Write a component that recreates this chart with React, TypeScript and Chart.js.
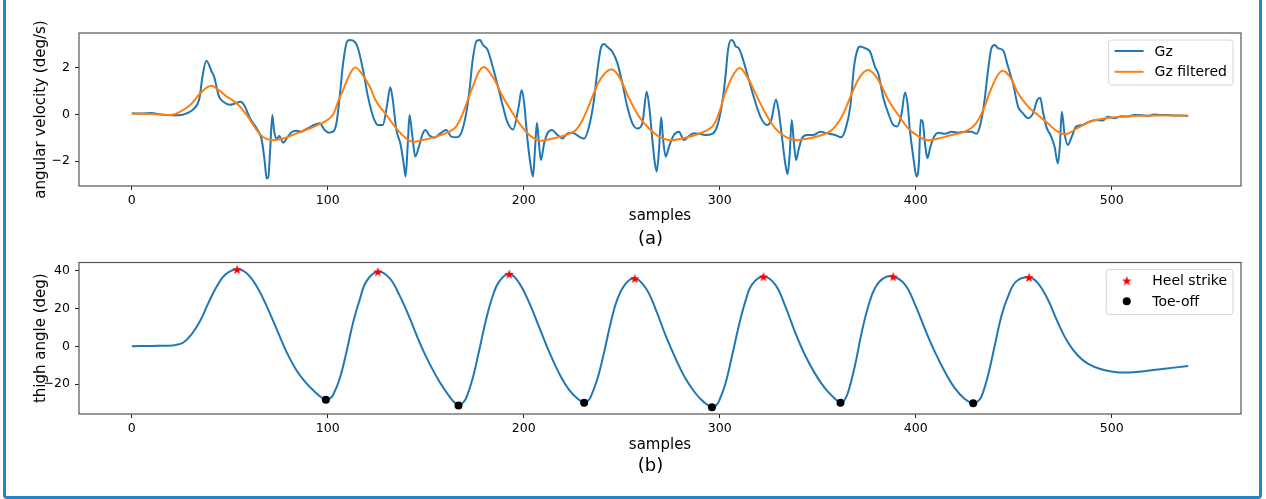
import React, { useEffect, useRef } from "react";
import { Chart, registerables } from "chart.js";

Chart.register(...registerables);

const FONT = '"DejaVu Sans", "Liberation Sans", sans-serif';

// ---------- data: panel (a) ----------
const X_TICKS = [0, 100, 200, 300, 400, 500];
const GZ_Y_TICKS = [-2, 0, 2];
const THIGH_Y_TICKS = [-20, 0, 20, 40];

const GZ_X = [
  0, 5, 10, 15, 20, 24, 28, 32, 34.5, 36, 38, 40.8, 42, 43.2, 44.5, 46.7, 50, 52.6, 55.5, 57.3,
  60.3, 63.7, 66.3, 67.9, 68.8, 69.6, 70.6, 71.7, 72.6, 73.9, 75.2, 77.3, 79, 81.5, 84, 86.6, 88.3, 90.8, 93, 95.9,
  98.4, 100.5, 102.7, 104.4, 106.1, 107.8, 109.8, 111.2, 113.7, 115.4, 118, 120.5, 123.1, 125.6, 128.1, 130.1, 131.9, 133.2, 135, 137,
  138.7, 139.7, 140.9, 141.7, 143.1, 144.6, 146.5, 148.5, 149.8, 151.9, 154.4, 157.4, 160.4, 163, 165.5, 168, 170.6, 172.3, 173.9, 176,
  177.7, 179.1, 181.6, 184.1, 186.7, 189.2, 191.5, 194.5, 197.4, 198.9, 200.2, 201.9, 203.6, 204.7, 205.8, 206.7, 207.6, 208.7, 210.4, 212.1,
  214.3, 217.2, 219.7, 222.3, 224.8, 228.2, 230.8, 233.3, 235.8, 237.6, 239.3, 241, 242.7, 245.2, 247.8, 250.3, 252.8, 255.4, 258, 260.5,
  262.7, 264.2, 265.6, 266.9, 267.8, 269, 270.1, 271.1, 272.4, 274.1, 276.6, 279.2, 281.7, 284.2, 286.8, 289.3, 292.7, 296.1, 298.6, 301.2,
  302.9, 304.2, 305.8, 307.1, 307.9, 309.7, 311.4, 313.9, 317.3, 320.7, 324.1, 326.3, 328.7, 330, 331.7, 333.4, 334.6, 335.6, 336.7, 337.7,
  338.9, 340.2, 341.9, 344.4, 347.8, 351.3, 354.7, 358.9, 362, 364, 366.6, 368.5, 370.2, 371.6, 374.1, 376.7, 379.2, 380.9, 383.5, 386,
  388.5, 390.5, 392.8, 394.5, 395.8, 397, 398.7, 400.4, 401.6, 402.5, 403.5, 404.7, 405.9, 407.3, 408.9, 411.5, 414.9, 418.3, 421.6, 425,
  428.4, 431, 432.7, 434.9, 436.9, 438.6, 440.3, 442, 444.5, 447.1, 449.6, 452.2, 454.7, 457.3, 459.8, 462, 463.5, 464.9, 466.6, 469.1,
  470.8, 472.5, 473.5, 474.5, 475.9, 477.6, 479.6, 481.8, 485.2, 488.6, 492, 495.4, 498, 501.4, 504.8, 508.2, 511.6, 514.9, 518.3, 521.7,
  525.1, 528.5, 531.9, 535, 539,
];
const GZ_Y = [
  0.05, 0.04, 0.06, 0.0, -0.03, -0.03, 0.05, 0.27, 0.7, 1.6, 2.31, 1.84, 1.63, 1.2, 0.77, 0.55, 0.42, 0.47, 0.55, 0.41,
  -0.16, -0.6, -1.1, -2.1, -2.75, -2.72, -1.5, -0.02, -0.7, -1.05, -0.93, -1.21, -1.03, -0.76, -0.7, -0.74, -0.66, -0.55, -0.45, -0.38,
  -0.67, -0.78, -0.74, -0.38, 0.8, 2.2, 3.13, 3.2, 3.13, 2.85, 1.91, 0.77, -0.09, -0.45, -0.45, 0.34, 1.17, 0.6, -0.67, -1.24,
  -2.1, -2.67, -1.1, -0.02, -0.9, -1.81, -1.38, -0.81, -0.67, -0.9, -1.0, -0.81, -0.67, -0.95, -0.98, -0.81, 0.05, 1.05, 2.34, 3.17,
  3.2, 3.0, 2.77, 2.06, 1.25, 0.4, -0.3, -0.65, 0.34, 1.05, 0.48, -1.1, -2.24, -2.67, -1.38, -0.35, -1.1, -1.96, -1.24, -0.81,
  -0.67, -0.88, -1.03, -0.81, -0.78, -0.95, -1.03, -0.52, 0.62, 1.91, 2.85, 3.03, 2.9, 2.7, 2.2, 1.34, 0.34, -0.38, -0.6, -0.38,
  0.98, 0.19, -1.1, -2.1, -2.46, -1.52, -0.12, -1.1, -1.81, -1.38, -0.88, -0.74, -1.1, -0.93, -0.81, -0.83, -0.88, -0.83, -0.52, 0.48,
  1.63, 2.77, 3.2, 3.13, 2.95, 2.85, 2.49, 1.77, 0.77, -0.09, -0.45, -0.23, 0.65, 0.19, -0.95, -2.1, -2.56, -1.81, -0.24, -1.1,
  -1.96, -1.52, -1.03, -0.88, -0.88, -0.74, -0.81, -0.88, -0.98, -0.67, 0.34, 2.05, 2.77, 2.92, 2.85, 2.7, 2.05, 1.75, 0.7, 0.05,
  -0.45, -0.52, 0.05, 0.95, 0.48, -0.67, -1.81, -2.67, -2.1, -0.24, -0.31, -1.24, -1.88, -1.45, -1.03, -0.78, -0.83, -0.74, -0.78, -0.74,
  -0.74, -0.83, -0.52, 0.48, 1.91, 2.85, 2.99, 2.85, 2.77, 2.05, 1.34, 0.34, 0.05, -0.16, 0.05, 0.62, 0.72, 0.12, -0.52, -0.95,
  -1.38, -2.1, -1.38, 0.12, -0.81, -1.31, -0.95, -0.52, -0.45, -0.31, -0.24, -0.26, -0.1, -0.16, -0.08, -0.09, -0.02, -0.02, -0.06, 0.0,
  -0.02, -0.02, -0.04, -0.04, -0.06,
];

const GZF_X = [
  0, 10, 20, 24.7, 29.8, 34.9, 40, 43.2, 48.4, 53.5, 58.6, 63.7, 67.1, 71.3, 77.3, 84, 90.8, 95.9, 99, 102.7,
  105, 107.8, 110.5, 113.7, 116.5, 121.4, 124.8, 129.9, 135, 140, 143.4, 148.5, 155.3, 162, 165.5, 168.9, 174, 179, 184.1, 189.2,
  192.6, 197.7, 202.8, 207.9, 214.7, 221.5, 226.6, 230.8, 235, 239.3, 244.4, 248.6, 253.7, 258.8, 263.9, 269, 274, 280.8, 289.3, 296.1,
  299.5, 303.7, 309.7, 313.9, 318.2, 323.3, 328.3, 333.4, 338.5, 345.3, 352.1, 357.2, 362.3, 367.4, 371.6, 375.8, 380.9, 386, 391.1, 396.2,
  401.3, 405.6, 411.5, 418.3, 425, 430.1, 434.4, 438.6, 443.7, 448, 452.2, 457.3, 462.3, 467.4, 472.5, 476.8, 482.7, 488.6, 497, 506.5,
  515, 523.4, 539,
];
const GZF_Y = [
  0.03, 0.02, -0.02, 0.12, 0.41, 0.91, 1.23, 1.13, 0.77, 0.48, -0.02, -0.67, -0.98, -1.1, -1.03, -0.81, -0.6, -0.41, -0.28, 0.0,
  0.5, 1.05, 1.6, 2.02, 1.85, 1.2, 0.55, -0.02, -0.6, -1.03, -1.17, -1.1, -0.95, -0.74, -0.52, 0.05, 1.2, 2.03, 1.63, 0.77,
  0.3, -0.38, -0.88, -1.12, -1.03, -0.88, -0.67, -0.09, 0.77, 1.55, 1.94, 1.63, 0.7, -0.09, -0.6, -0.95, -1.1, -1.03, -0.83, -0.52,
  0.05, 1.13, 1.99, 1.63, 0.91, 0.05, -0.6, -0.95, -1.1, -1.03, -0.88, -0.67, -0.09, 0.91, 1.63, 1.91, 1.48, 0.62, -0.02, -0.6,
  -0.93, -1.1, -1.03, -0.88, -0.74, -0.45, 0.19, 1.13, 1.87, 1.63, 0.91, 0.34, -0.02, -0.38, -0.74, -0.84, -0.58, -0.31, -0.16, -0.09,
  -0.05, -0.04, -0.05,
];

// ---------- data: panel (b) ----------
const THIGH_X = [
  0, 10, 18, 22, 26.3, 30.6, 34.9, 39.1, 43.4, 47.6, 53.7, 58.6, 63.7, 68.8, 73.9, 79, 84, 89.1, 94.2, 96.6, 99, 100.9, 102.7,
  106.1, 109.5, 112.9, 116.3, 119.7, 125.5, 131.5, 136.6, 141.7, 146.8, 151.9, 157, 162.1, 164.6, 166.7, 168.6, 170.6, 173.9, 177.4, 180.8, 184.1, 187.5,
  192.6, 197.7, 202.8, 207.9, 213, 218.1, 223.2, 228.2, 230.8, 232.5, 234.2, 237.6, 241, 244.4, 247.7, 252, 256.6, 262.2, 267.3, 272.4, 277.5,
  282.5, 287.6, 291.9, 296, 297.8, 299.5, 302.9, 306.3, 309.7, 313.1, 316.4, 322.3, 328.3, 333.4, 338.5, 343.6, 348.6, 353.7, 358.9, 361.6, 363.6, 365.6,
  369, 372.4, 375.8, 379.2, 383.5, 388.5, 394.5, 399.6, 404.7, 409.8, 414.9, 420, 425, 429.3, 431.4, 433.5, 436.9, 440.3, 443.7, 447.1, 451.3,
  457.8, 462.3, 467.4, 472.5, 477.6, 482.7, 487.8, 494.6, 501.4, 508.2, 516.6, 526.8, 539,
];
const THIGH_Y = [
  0, 0.2, 0.3, 0.6, 2, 6.5, 13.5, 23, 31.8, 37.9, 40.8, 38.7, 31.8, 21.3, 9.1, -3.1, -12.7, -19.7, -24.9, -27, -28.3, -27.8, -25.8,
  -17.1, -3.1, 12.6, 24.8, 34.4, 39.6, 36.1, 27, 15.2, 2.1, -9.2, -18.8, -26.7, -29.8, -31.4, -30.4, -27.5, -17.1, -1.4, 14.3, 26.5, 34.4,
  38.4, 33.5, 23, 10, -3.1, -14.5, -23.2, -28.4, -30, -29.2, -26.7, -17.1, -3.1, 12.6, 24.8, 33.2, 36, 30.9, 19.6, 5.6, -6.6,
  -17.1, -24.9, -29.6, -32.3, -31.6, -29.3, -19.7, -4.9, 10.8, 23.9, 32.7, 37, 32.7, 21.3, 7.3, -4.9, -14.5, -22.3, -27.9, -30, -28.6, -24,
  -10.1, 7.3, 21.3, 30.9, 36, 37, 32.7, 22.2, 9.1, -3.1, -13.6, -22.3, -27.9, -30.2, -29.4, -26.7, -15.3, 0.4, 16.1, 26.5, 34.4,
  36.6, 33.5, 24.8, 12.6, 2.1, -4.9, -9.2, -12.2, -13.6, -13.9, -13.2, -11.9, -10.5,
];

const HEEL_X = [53.7, 125.5, 192.6, 256.6, 322.3, 388.5, 457.8];
const HEEL_Y = [40.8, 39.6, 38.4, 36, 37, 37, 36.6];
const TOE_X = [99, 166.7, 230.8, 296, 361.6, 429.3];
const TOE_Y = [-28.3, -31.4, -30, -32.3, -30, -30.2];

const BLUE = "#1f77b4";
const ORANGE = "#ff7f0e";

function pts(xs: number[], ys: number[]) {
  return xs.map((x, i) => ({ x, y: ys[i] }));
}

function fmt(v: number) {
  return v < 0 ? "\u2212" + Math.abs(v) : String(v);
}

function makeStar(color: string, size: number) {
  const c = document.createElement("canvas");
  c.width = size;
  c.height = size;
  const ctx = c.getContext("2d")!;
  ctx.fillStyle = color;
  ctx.beginPath();
  for (let i = 0; i < 10; i++) {
    const r = i % 2 === 0 ? size / 2 : (size / 2) * 0.42;
    const a = -Math.PI / 2 + (i * Math.PI) / 5;
    const px = size / 2 + r * Math.cos(a);
    const py = size / 2 + r * Math.sin(a) + size * 0.06;
    if (i === 0) ctx.moveTo(px, py);
    else ctx.lineTo(px, py);
  }
  ctx.closePath();
  ctx.fill();
  return c;
}

type LegendItem = { label: string; kind: "line" | "star" | "circle"; color: string };

function makePlugins(items: LegendItem[], caption: string, capX: number, capY: number, star: HTMLCanvasElement) {
  return [
    {
      id: "frame",
      afterDraw(chart: any) {
        const { ctx, chartArea: a } = chart;
        ctx.save();
        ctx.strokeStyle = "#555";
        ctx.lineWidth = 1.2;
        ctx.strokeRect(a.left, a.top, a.right - a.left, a.bottom - a.top);
        ctx.restore();
      },
    },
    {
      id: "mplLegend",
      afterDraw(chart: any) {
        const { ctx, chartArea: a } = chart;
        ctx.save();
        ctx.font = `14px ${FONT}`;
        const textW = Math.max(...items.map((it) => ctx.measureText(it.label).width));
        const w = 6 + 29 + 11 + textW + 6;
        const h = 45;
        const right = a.right - 8;
        const top = a.top + 7;
        const left = right - w;
        const r = 3;
        ctx.beginPath();
        ctx.moveTo(left + r, top);
        ctx.lineTo(right - r, top);
        ctx.quadraticCurveTo(right, top, right, top + r);
        ctx.lineTo(right, top + h - r);
        ctx.quadraticCurveTo(right, top + h, right - r, top + h);
        ctx.lineTo(left + r, top + h);
        ctx.quadraticCurveTo(left, top + h, left, top + h - r);
        ctx.lineTo(left, top + r);
        ctx.quadraticCurveTo(left, top, left + r, top);
        ctx.closePath();
        ctx.fillStyle = "rgba(255,255,255,0.85)";
        ctx.fill();
        ctx.strokeStyle = "#d6d6d6";
        ctx.lineWidth = 1;
        ctx.stroke();
        items.forEach((it, i) => {
          const cy = top + 11 + i * 20.8;
          const hx = left + 6;
          if (it.kind === "line") {
            ctx.strokeStyle = it.color;
            ctx.lineWidth = 2;
            ctx.beginPath();
            ctx.moveTo(hx, cy);
            ctx.lineTo(hx + 29, cy);
            ctx.stroke();
          } else if (it.kind === "star") {
            ctx.drawImage(star, hx + 14.5 - star.width / 2, cy - star.height / 2);
          } else {
            ctx.fillStyle = it.color;
            ctx.beginPath();
            ctx.arc(hx + 14.5, cy, 4, 0, Math.PI * 2);
            ctx.fill();
          }
          ctx.fillStyle = "#000";
          ctx.textBaseline = "middle";
          ctx.textAlign = "left";
          ctx.fillText(it.label, hx + 40, cy + 1);
        });
        ctx.restore();
      },
    },
    {
      id: "caption",
      afterDraw(chart: any) {
        const { ctx } = chart;
        ctx.save();
        ctx.font = `18px ${FONT}`;
        ctx.fillStyle = "#000";
        ctx.textAlign = "center";
        ctx.textBaseline = "middle";
        ctx.fillText(caption, capX, capY);
        ctx.restore();
      },
    },
  ];
}

function axisOptions(
  yTicks: number[],
  yMin: number,
  yMax: number,
  yTitle: string,
  xAxisH: number
) {
  const tickFont = { family: FONT, size: 12.5 };
  const titleFont = { family: FONT, size: 15 };
  return {
    x: {
      type: "linear",
      min: -26.95,
      max: 565.95,
      afterBuildTicks: (s: any) => {
        s.ticks = X_TICKS.map((v) => ({ value: v }));
      },
      afterFit: (s: any) => {
        s.height = xAxisH;
      },
      grid: { display: true, drawOnChartArea: false, drawTicks: true, tickLength: 4, color: "#222", lineWidth: 1 },
      border: { display: false },
      ticks: { font: tickFont, color: "#000", padding: 3, maxRotation: 0, autoSkip: false, callback: (v: number) => fmt(v) },
      title: { display: true, text: "samples", font: titleFont, color: "#000", padding: 0 },
    },
    y: {
      type: "linear",
      min: yMin,
      max: yMax,
      afterBuildTicks: (s: any) => {
        s.ticks = yTicks.map((v) => ({ value: v }));
      },
      afterFit: (s: any) => {
        s.width = 47;
      },
      grid: { display: true, drawOnChartArea: false, drawTicks: true, tickLength: 4, color: "#222", lineWidth: 1 },
      border: { display: false },
      ticks: { font: tickFont, color: "#000", padding: 5, autoSkip: false, callback: (v: number) => fmt(v) },
      title: { display: true, text: yTitle, font: titleFont, color: "#000", padding: 0 },
    },
  };
}

export default function App() {
  const c1 = useRef<HTMLCanvasElement>(null);
  const c2 = useRef<HTMLCanvasElement>(null);

  useEffect(() => {
    document.body.style.margin = "0";
    const star = makeStar("#ff0000", 10);

    const chart1 = new Chart(c1.current!, {
      type: "line",
      data: {
        datasets: [
          {
            label: "Gz",
            data: pts(GZ_X, GZ_Y),
            borderColor: BLUE,
            borderWidth: 2,
            pointRadius: 0,
            cubicInterpolationMode: "monotone",
            fill: false,
            order: 2,
          },
          {
            label: "Gz filtered",
            data: pts(GZF_X, GZF_Y),
            borderColor: ORANGE,
            borderWidth: 2,
            pointRadius: 0,
            tension: 0.4,
            fill: false,
            order: 1,
          },
        ],
      },
      options: {
        responsive: false,
        animation: false,
        devicePixelRatio: 1,
        layout: { padding: { left: 32, right: 25, top: 33, bottom: 24.5 } },
        scales: axisOptions(GZ_Y_TICKS, -3.075, 3.505, "angular velocity (deg/s)", 39.5) as any,
        plugins: { legend: { display: false }, tooltip: { enabled: false } },
      },
      plugins: makePlugins(
        [
          { label: "Gz", kind: "line", color: BLUE },
          { label: "Gz filtered", kind: "line", color: ORANGE },
        ],
        "(a)",
        650.5,
        239,
        star
      ) as any,
    } as any);

    const chart2 = new Chart(c2.current!, {
      type: "line",
      data: {
        datasets: [
          {
            label: "thigh angle",
            data: pts(THIGH_X, THIGH_Y),
            borderColor: BLUE,
            borderWidth: 2,
            pointRadius: 0,
            tension: 0.4,
            fill: false,
            order: 3,
          },
          {
            label: "Heel strike",
            data: pts(HEEL_X, HEEL_Y),
            showLine: false,
            pointStyle: star,
            pointRadius: 5,
            order: 1,
          },
          {
            label: "Toe-off",
            data: pts(TOE_X, TOE_Y),
            showLine: false,
            pointStyle: "circle",
            pointRadius: 4,
            pointBackgroundColor: "#000",
            pointBorderColor: "#000",
            pointBorderWidth: 0,
            order: 2,
          },
        ],
      },
      options: {
        responsive: false,
        animation: false,
        devicePixelRatio: 1,
        layout: { padding: { left: 32, right: 25, top: 11, bottom: 45 } },
        scales: axisOptions(THIGH_Y_TICKS, -35.9, 44.4, "thigh angle (deg)", 40) as any,
        plugins: { legend: { display: false }, tooltip: { enabled: false } },
      },
      plugins: makePlugins(
        [
          { label: "Heel strike", kind: "star", color: "#ff0000" },
          { label: "Toe-off", kind: "circle", color: "#000" },
        ],
        "(b)",
        650.5,
        216,
        star
      ) as any,
    } as any);

    return () => {
      chart1.destroy();
      chart2.destroy();
    };
  }, []);

  return (
    <div style={{ position: "fixed", left: 0, top: 0, width: 1266, height: 499, background: "#fff", overflow: "hidden" }}>
      <canvas ref={c1} width={1266} height={250} style={{ position: "absolute", left: 0, top: 0, width: 1266, height: 250 }} />
      <canvas ref={c2} width={1266} height={249} style={{ position: "absolute", left: 0, top: 250, width: 1266, height: 249 }} />
      <div
        style={{
          position: "absolute",
          left: 3,
          top: -20,
          width: 1253,
          height: 513,
          border: "3px solid #2386c6",
          borderRadius: 4,
          pointerEvents: "none",
        }}
      />
    </div>
  );
}
